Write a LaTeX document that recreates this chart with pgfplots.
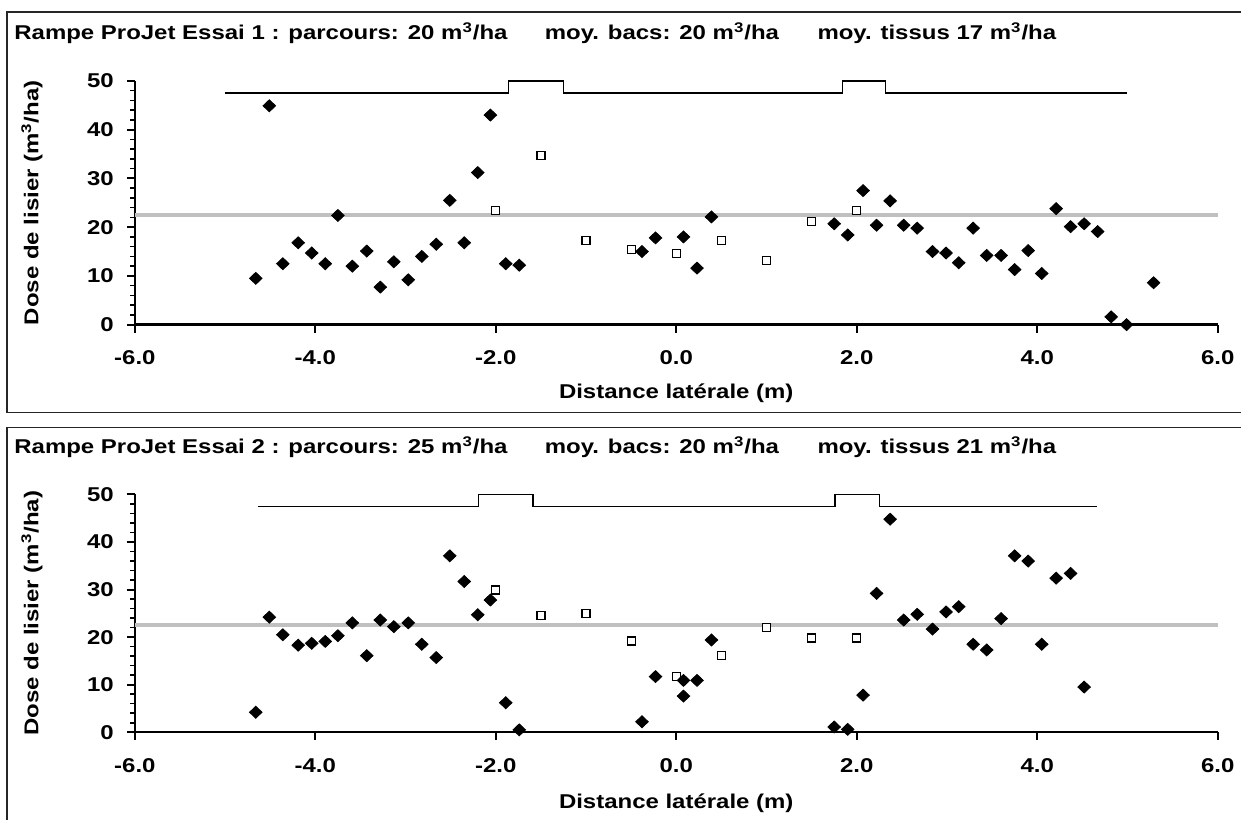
\documentclass[border=0pt]{standalone}
\usepackage{fontspec}
\setmainfont{Liberation Sans}[FakeStretch=1.2]
\usepackage{pgfplots}
\pgfplotsset{compat=1.18}
\definecolor{gline}{RGB}{192,192,192}

\pgfplotstableread{
x y
-4.66 9.5
-4.51 44.9
-4.36 12.5
-4.19 16.8
-4.04 14.7
-3.89 12.5
-3.75 22.4
-3.59 12.0
-3.43 15.1
-3.28 7.7
-3.13 12.9
-2.97 9.2
-2.82 14.0
-2.66 16.5
-2.51 25.5
-2.35 16.8
-2.20 31.2
-2.06 43.0
-1.89 12.5
-1.74 12.2
-0.38 15.0
-0.23 17.8
0.08 18.0
0.23 11.6
0.39 22.1
1.75 20.7
1.90 18.4
2.07 27.5
2.22 20.4
2.37 25.4
2.52 20.4
2.67 19.8
2.84 15.0
2.99 14.7
3.13 12.7
3.29 19.8
3.44 14.2
3.60 14.2
3.75 11.3
3.90 15.2
4.05 10.5
4.21 23.8
4.37 20.1
4.52 20.7
4.67 19.1
4.82 1.6
4.99 0.0
5.29 8.6
}\tissusA

\pgfplotstableread{
x y
-2.0 23.4
-1.5 34.7
-1.0 17.3
-0.5 15.5
0.0 14.6
0.5 17.2
1.0 13.2
1.5 21.1
2.0 23.4
}\bacsA

\pgfplotstableread{
x y
-4.66 4.2
-4.51 24.2
-4.36 20.5
-4.19 18.3
-4.04 18.7
-3.89 19.1
-3.75 20.3
-3.59 23.0
-3.43 16.1
-3.28 23.6
-3.13 22.2
-2.97 23.0
-2.82 18.5
-2.66 15.7
-2.51 37.1
-2.35 31.7
-2.20 24.7
-2.06 27.8
-1.89 6.2
-1.74 0.5
-0.38 2.2
-0.23 11.7
0.08 10.9
0.08 7.6
0.23 10.9
0.39 19.4
1.75 1.1
1.90 0.6
2.07 7.8
2.22 29.2
2.37 44.8
2.52 23.6
2.67 24.8
2.84 21.7
2.99 25.3
3.13 26.4
3.29 18.5
3.44 17.3
3.60 23.9
3.75 37.1
3.90 36.0
4.05 18.5
4.21 32.4
4.37 33.4
4.52 9.5
}\tissusB

\pgfplotstableread{
x y
-2.0 29.9
-1.5 24.6
-1.0 24.9
-0.5 19.2
0.0 11.7
0.5 16.2
1.0 22.1
1.5 19.8
2.0 19.8
}\bacsB

\pgfplotsset{panel/.style={
  scale only axis, width=542pt,
  xmin=-6, xmax=6, ymin=0, ymax=50,
  axis x line*=bottom, axis y line*=left,
  axis line style={-, line width=1.25pt, black},
  tick align=outside,
  xtick={-6,-4,...,6}, xticklabels={-6.0,-4.0,-2.0,0.0,2.0,4.0,6.0},
  ytick={0,10,...,50}, yticklabels={0,10,20,30,40,50},
  minor y tick num=4,
  major tick length=4pt, minor tick length=2.5pt,
  major tick style={black, line width=1pt},
  minor tick style={black, line width=0.8pt},
  xticklabel style={yshift=-5.5pt},
  yticklabel style={xshift=-3pt},
  clip=false,
  xlabel={Distance latérale (m)},
  ylabel={Dose de lisier (m\textsuperscript{3}/ha)},
  ylabel style={at={(axis description cs:-0.095,0.5)}, anchor=center},
},
diam/.style={only marks, black, mark=diamond*, mark size=3pt, mark options={black, xscale=1.4}},
sq/.style={only marks, black, mark=square*, mark size=2pt, mark options={draw=black, fill=white, line width=0.6pt}},
}

\begin{document}
\bfseries
\begin{tikzpicture}
\begin{scope}[x=0.5pt,y=-0.5pt]
\useasboundingbox (0,0) rectangle (1241,815);
\draw[line width=0.75pt, black!85] (1300,12) -- (7,12) -- (7,413) -- (1300,413);
\draw[line width=0.75pt, black!85] (1300,428) -- (7,428) -- (7,830);
\node[anchor=base west, inner sep=0] at (14,40) {Rampe ProJet Essai 1 : parcours: 20 m\textsuperscript{3}/ha};
\node[anchor=base west, inner sep=0] at (545,40) {moy. bacs: 20 m\textsuperscript{3}/ha};
\node[anchor=base west, inner sep=0] at (818,40) {moy. tissus 17 m\textsuperscript{3}/ha};
\node[anchor=base west, inner sep=0] at (14,454) {Rampe ProJet Essai 2 : parcours: 25 m\textsuperscript{3}/ha};
\node[anchor=base west, inner sep=0] at (545,454) {moy. bacs: 20 m\textsuperscript{3}/ha};
\node[anchor=base west, inner sep=0] at (818,454) {moy. tissus 21 m\textsuperscript{3}/ha};
\end{scope}

\begin{axis}[panel, height=122pt, at={(67.5pt,-162.5pt)}, anchor=south west,
  xlabel style={at={(axis description cs:0.5,-0.283)}, anchor=center}]
\addplot[gline, line width=2pt] coordinates {(-6,22.4) (6,22.4)};
\addplot[black, line width=0.75pt] coordinates {(-5,47.5) (-1.86,47.5) (-1.86,50) (-1.25,50) (-1.25,47.5) (1.84,47.5) (1.84,50) (2.32,50) (2.32,47.5) (5,47.5)};
\addplot[sq] table {\bacsA};
\addplot[diam] table {\tissusA};
\end{axis}

\begin{axis}[panel, height=119pt, at={(67.5pt,-366.5pt)}, anchor=south west,
  xlabel style={at={(axis description cs:0.5,-0.298)}, anchor=center}]
\addplot[gline, line width=2pt] coordinates {(-6,22.5) (6,22.5)};
\addplot[black, line width=0.75pt] coordinates {(-4.64,47.5) (-2.19,47.5) (-2.19,50) (-1.59,50) (-1.59,47.5) (1.76,47.5) (1.76,50) (2.25,50) (2.25,47.5) (4.66,47.5)};
\addplot[sq] table {\bacsB};
\addplot[diam] table {\tissusB};
\end{axis}
\end{tikzpicture}
\end{document}
